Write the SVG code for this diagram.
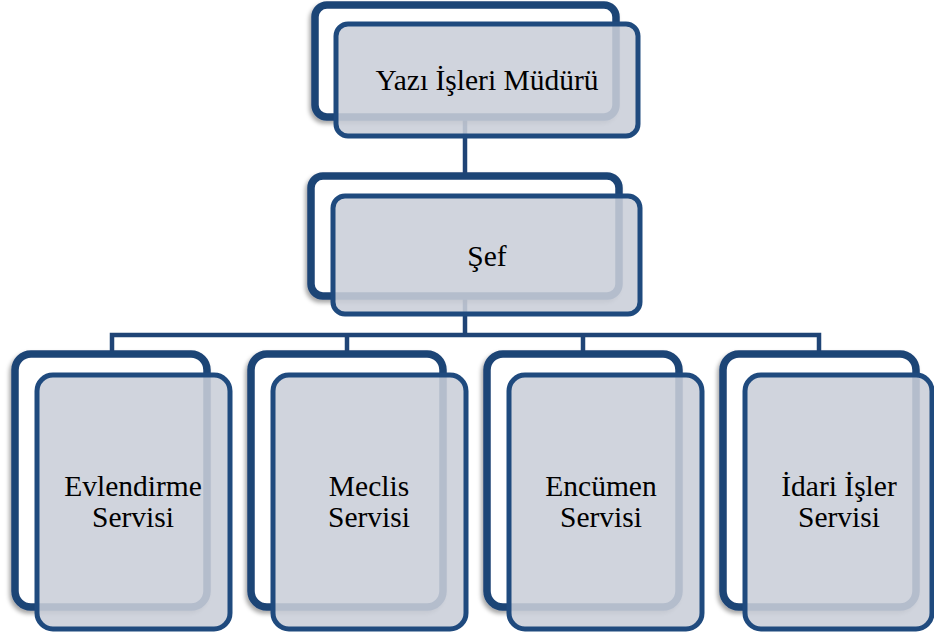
<svg xmlns="http://www.w3.org/2000/svg" width="934" height="637" viewBox="0 0 934 637">
<defs>
<style>
.back{fill:#ffffff;stroke:#1f4476;stroke-width:7.5;filter:url(#sh)}
.front{fill:#c9ced8;fill-opacity:0.88;stroke:#1f4a7e;stroke-width:5}
.conn{fill:none;stroke:#1f4476;stroke-width:4.5}
.lbl{font-family:'Liberation Serif','Times New Roman',serif;font-size:29.5px;fill:#000000;text-anchor:middle}
</style>
<filter id="sh" x="-10%" y="-10%" width="120%" height="120%">
<feDropShadow dx="-2" dy="3" stdDeviation="2" flood-color="#000" flood-opacity="0.35"/>
</filter>
</defs>
<rect width="934" height="637" fill="#ffffff"/>
<g id="connectors">
<path class="conn" d="M465,117 V176"/>
<path class="conn" d="M465,296 V335"/>
<path class="conn" d="M112,354 V335 H819 V354"/>
<path class="conn" d="M347,335 V354"/>
<path class="conn" d="M583,335 V354"/>
</g>
<g id="node-mudur">
<rect class="back" x="315" y="5" width="301" height="112" rx="12"/>
<rect class="front" x="336" y="24" width="302" height="112" rx="12"/>
<text class="lbl" x="487" y="90">Yazı İşleri Müdürü</text>
</g>
<g id="node-sef">
<rect class="back" x="311" y="176" width="308" height="120" rx="12"/>
<rect class="front" x="333" y="196" width="307" height="118" rx="12"/>
<text class="lbl" x="487" y="266">Şef</text>
</g>
<g id="node-evlendirme">
<rect class="back" x="15" y="354" width="192" height="253" rx="16"/>
<rect class="front" x="37" y="375" width="193" height="254" rx="16"/>
<text class="lbl" x="133" y="496">Evlendirme</text>
<text class="lbl" x="133" y="527">Servisi</text>
</g>
<g id="node-meclis">
<rect class="back" x="251" y="354" width="192" height="253" rx="16"/>
<rect class="front" x="273" y="375" width="193" height="254" rx="16"/>
<text class="lbl" x="369" y="496">Meclis</text>
<text class="lbl" x="369" y="527">Servisi</text>
</g>
<g id="node-encumen">
<rect class="back" x="487" y="354" width="192" height="253" rx="16"/>
<rect class="front" x="509" y="375" width="193" height="254" rx="16"/>
<text class="lbl" x="601" y="496">Encümen</text>
<text class="lbl" x="601" y="527">Servisi</text>
</g>
<g id="node-idari">
<rect class="back" x="723" y="354" width="193" height="253" rx="16"/>
<rect class="front" x="745" y="375" width="187" height="254" rx="16"/>
<text class="lbl" x="839" y="496">İdari İşler</text>
<text class="lbl" x="839" y="527">Servisi</text>
</g>
</svg>
